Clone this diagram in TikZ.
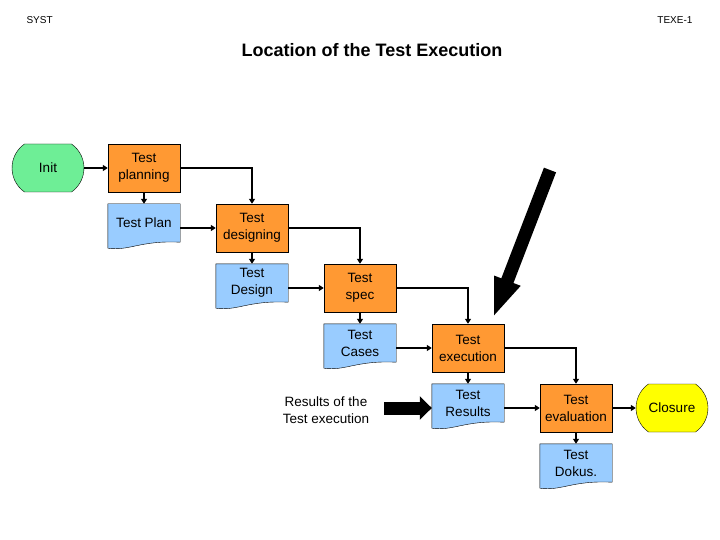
\documentclass[tikz,border=0pt]{standalone}
\usepackage{fontspec}
\setmainfont{Liberation Sans}
\usetikzlibrary{positioning, arrows.meta, shapes.misc, calc, backgrounds}

\definecolor{procorange}{RGB}{255,153,51}
\definecolor{docblue}{RGB}{153,204,255}
\definecolor{initgreen}{RGB}{110,238,150}
\definecolor{closeyellow}{RGB}{255,255,0}

\tikzset{
	proc/.style={draw, fill=procorange, minimum width=72pt, minimum height=48pt, inner sep=0pt, align=center},
	doc/.style={minimum width=72pt, minimum height=38pt, inner sep=0pt, align=center},
	docshape/.style={draw, fill=docblue},
	term/.style={draw, rounded rectangle, rounded rectangle arc length=110, minimum width=72pt, minimum height=48pt, inner sep=0pt},
	flow/.style={-{Triangle[length=5pt, width=6pt]}, line width=1.8pt},
	fat/.style={-{Triangle[length=12pt, width=23pt]}, line width=13pt},
	bigfat/.style={-{Triangle[length=40pt, width=25pt]}, line width=13pt},
	header/.style={font=\fontsize{10}{12}\selectfont}
}

\begin{document}
\begin{tikzpicture}[x=1pt, y=-1pt, on grid, node distance=60pt and 108pt, font=\fontsize{13.5}{17}\selectfont]
		
		\useasboundingbox (0,0) rectangle (720,540);
		
		\node[header, anchor=west] (syst) at (23,20) {SYST};
		\node[header, anchor=east] (texe) at (696,20) {TEXE-1};
		\node[font=\bfseries\fontsize{18}{21}\selectfont] (title) at (372,50) {Location of the Test Execution};
		
		\node[term, fill=initgreen] (init) at (48,168) {Init};
		\node[proc] (planning) [right=96pt of init] {Test\\planning};
		\node[doc] (plan) [below=55pt of planning] {Test Plan};
		\node[proc] (designing) [below right=of planning] {Test\\designing};
		\node[doc] (design) [below=55pt of designing] {Test\\Design};
		\node[proc] (spec) [below right=of designing] {Test\\spec};
		\node[doc] (cases) [below=55pt of spec] {Test\\Cases};
		\node[proc] (execution) [below right=of spec] {Test\\execution};
		\node[doc] (results) [below=55pt of execution] {Test\\Results};
		\node[proc] (evaluation) [below right=of execution] {Test\\evaluation};
		\node[doc] (dokus) [below=55pt of evaluation] {Test\\Dokus.};
		\node[term, fill=closeyellow] (closure) [right=96pt of evaluation] {Closure};
		
		\node[align=center] (restext) at (326,410) {Results of the\\Test execution};
		
		% wavy document shapes behind the texts
		\begin{scope}[on background layer]
		\foreach \d in {plan, design, cases, results, dokus}
		\draw[docshape] (\d.north west) -- (\d.north east) -- (\d.south east)
		.. controls ($(\d.south east)+(-40,-2)$) and ($(\d.south west)+(22,9)$) .. ($(\d.south west)+(0,6)$) -- cycle;
		\end{scope}
		
		\draw[flow] (init) -- (planning);
		\draw[flow] (planning) -- (plan);
		\draw[flow] (planning) -| (designing);
		\draw[flow] (plan.east |- designing) -- (designing.west);
		
		\draw[flow] (designing) -- (design);
		\draw[flow] (designing) -| (spec);
		\draw[flow] (design.east |- spec) -- (spec.west);
		
		\draw[flow] (spec) -- (cases);
		\draw[flow] (spec) -| (execution);
		\draw[flow] (cases.east |- execution) -- (execution.west);
		
		\draw[flow] (execution) -- (results);
		\draw[flow] (execution) -| (evaluation);
		\draw[flow] (results.east |- evaluation) -- (evaluation.west);
		
		\draw[flow] (evaluation) -- (dokus);
		\draw[flow] (evaluation) -- (closure);
		
		% the two black pointers
		\coordinate (fatstart) at (384,408);
		\draw[fat] (fatstart) -- (results.west |- fatstart);
		\coordinate (hinttail) at (550,170);
		\coordinate (hinttip) at (493,318);
		\draw[bigfat] (hinttail) -- (hinttip);
		
\end{tikzpicture}
\end{document}
